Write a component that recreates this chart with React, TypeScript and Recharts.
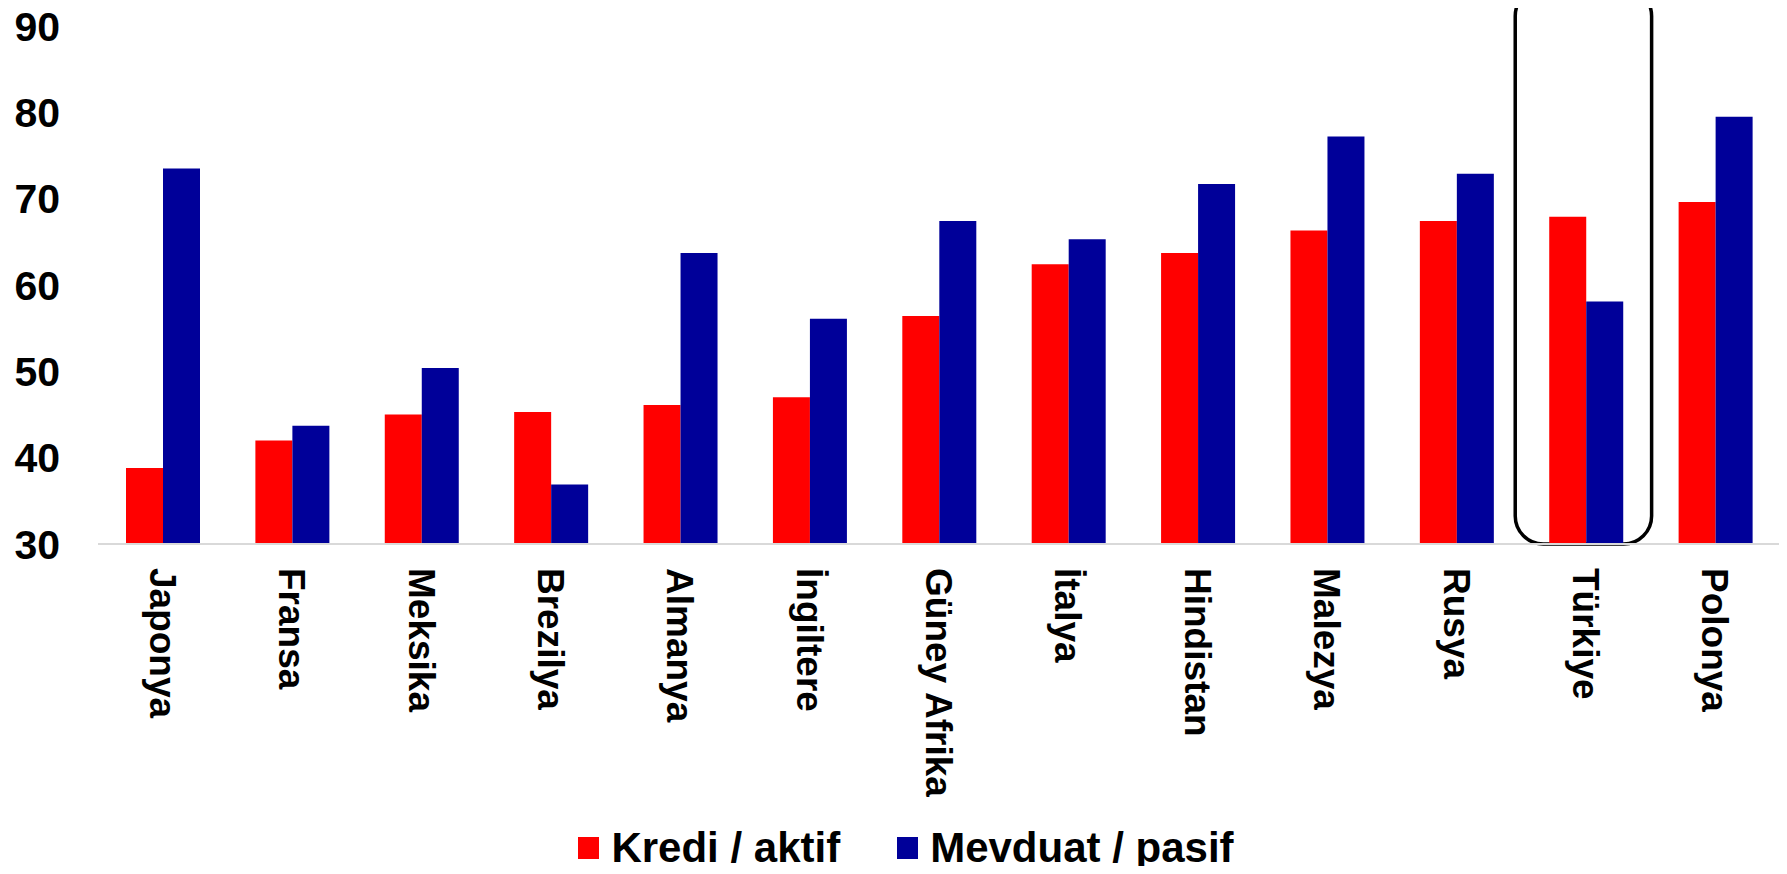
import { BarChart, Bar, XAxis, YAxis, Legend, ReferenceArea } from "recharts";

const countries = [
  "Japonya",
  "Fransa",
  "Meksika",
  "Brezilya",
  "Almanya",
  "İngiltere",
  "Güney Afrika",
  "İtalya",
  "Hindistan",
  "Malezya",
  "Rusya",
  "Türkiye",
  "Polonya",
];
const krediAktif = [38.8, 42.0, 45.0, 45.3, 46.1, 47.0, 56.4, 62.4, 63.7, 66.3, 67.4, 67.9, 69.6];
const mevduatPasif = [73.5, 43.7, 50.4, 36.9, 63.7, 56.1, 67.4, 65.3, 71.7, 77.2, 72.9, 58.1, 79.5];
const yTicks = [30, 40, 50, 60, 70, 80, 90];

const SERIES = [
  { key: "kredi", name: "Kredi / aktif", color: "#ff0000" },
  { key: "mevduat", name: "Mevduat / pasif", color: "#000099" },
];

const FONT = '"Liberation Sans", Arial, sans-serif';

const data = countries.map((name, i) => ({
  name,
  kredi: krediAktif[i],
  mevduat: mevduatPasif[i],
}));

const CountryTick = (props: any) => {
  const { x, y, payload } = props;
  return (
    <g transform={`translate(${x},${y})`}>
      <text
        transform="rotate(90)"
        textAnchor="start"
        dy="0.35em"
        fill="#000"
        fontFamily={FONT}
        fontWeight="bold"
        fontSize={37}
      >
        {payload.value}
      </text>
    </g>
  );
};

const renderLegend = () => (
  <div
    style={{
      display: "flex",
      justifyContent: "center",
      alignItems: "center",
      height: 52,
      paddingLeft: 32,
      fontFamily: FONT,
      fontWeight: "bold",
      fontSize: 42,
      color: "#000",
    }}
  >
    {SERIES.map((s, i) => (
      <div
        key={s.key}
        style={{ display: "flex", alignItems: "center", marginRight: i === 0 ? 57 : 0 }}
      >
        <span
          style={{ width: 21, height: 22, background: s.color, marginRight: 12, display: "inline-block" }}
        />
        <span>{s.name}</span>
      </div>
    ))}
  </div>
);

// rounded frame around Türkiye, a bit wider than its category band
const renderBox = (p: any) => (
  <rect
    x={p.x - 6}
    y={p.y}
    width={p.width + 7}
    height={p.height}
    rx={28}
    ry={28}
    fill="none"
    stroke="#000"
    strokeWidth={3.5}
  />
);

export default function App() {
  return (
    <div style={{ margin: -8, width: 1787, height: 874, background: "#fff" }}>
      <BarChart
        width={1787}
        height={874}
        data={data}
        margin={{ top: 26, right: 7, bottom: 0, left: 0 }}
        barGap={0}
        barSize={37}
      >
        <XAxis
          dataKey="name"
          interval={0}
          height={278}
          tickLine={false}
          axisLine={{ stroke: "#d9d9d9", strokeWidth: 2 }}
          tickMargin={18}
          tick={<CountryTick />}
        />
        <YAxis
          domain={[30, 90]}
          ticks={yTicks}
          width={98}
          axisLine={false}
          tickLine={false}
          tickMargin={32}
          allowDataOverflow
          tick={{ fill: "#000", fontFamily: FONT, fontWeight: "bold", fontSize: 41 }}
        />
        <Legend verticalAlign="bottom" height={52} content={renderLegend} />
        {SERIES.map((s) => (
          <Bar
            key={s.key}
            dataKey={s.key}
            name={s.name}
            fill={s.color}
            isAnimationActive={false}
          />
        ))}
        <ReferenceArea
          x1="Türkiye"
          x2="Türkiye"
          y1={30}
          y2={94.4}
          ifOverflow="visible"
          shape={renderBox}
        />
      </BarChart>
    </div>
  );
}
